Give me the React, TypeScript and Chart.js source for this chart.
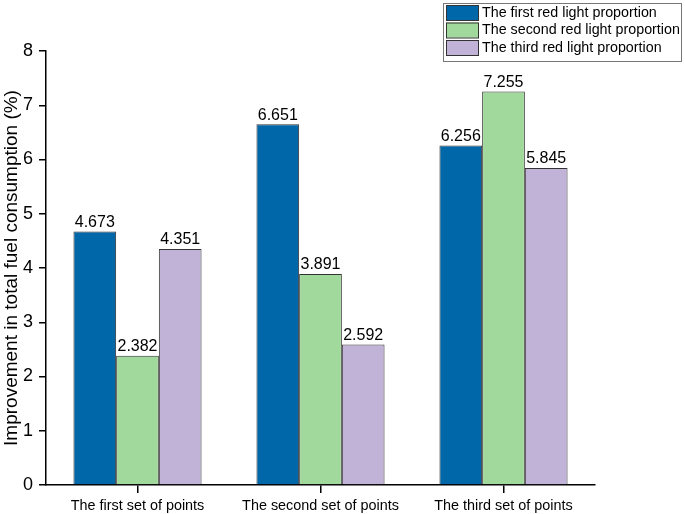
import { useEffect, useRef } from "react";
import { Chart, registerables } from "chart.js";

Chart.register(...registerables);

const categories = ["The first set of points", "The second set of points", "The third set of points"];
const seriesNames = ["The first red light proportion", "The second red light proportion", "The third red light proportion"];
const firstValues = [4.673, 6.651, 6.256];
const secondValues = [2.382, 3.891, 7.255];
const thirdValues = [4.351, 2.592, 5.845];
const yTickValues = [0, 1, 2, 3, 4, 5, 6, 7, 8];
const seriesColors = ["#0067a9", "#a1d89b", "#c1b3d7"];

const FONT = "'Liberation Sans', Arial, Helvetica, sans-serif";

const valueLabelPlugin = {
  id: "valueLabels",
  afterDatasetsDraw(chart: any) {
    const ctx = chart.ctx;
    ctx.save();
    ctx.font = `16px ${FONT}`;
    ctx.fillStyle = "#000";
    ctx.textAlign = "center";
    ctx.textBaseline = "bottom";
    chart.data.datasets.forEach((ds: any, i: number) => {
      const meta = chart.getDatasetMeta(i);
      meta.data.forEach((bar: any, j: number) => {
        ctx.fillText(ds.data[j].toFixed(3), bar.x, bar.y - 1);
      });
    });
    ctx.restore();
  },
};

const boxLegendPlugin = {
  id: "boxLegend",
  afterDraw(chart: any) {
    const ctx = chart.ctx;
    const x0 = 443;
    const y0 = 3;
    const w = 238;
    const h = 58;
    ctx.save();
    ctx.fillStyle = "#fff";
    ctx.fillRect(x0, y0, w, h);
    ctx.strokeStyle = "#777";
    ctx.lineWidth = 1;
    ctx.strokeRect(x0 + 0.5, y0 + 0.5, w, h);
    ctx.font = `14.3px ${FONT}`;
    ctx.textBaseline = "middle";
    ctx.textAlign = "left";
    chart.data.datasets.forEach((ds: any, i: number) => {
      const ry = y0 + 2 + i * 17.5;
      ctx.fillStyle = ds.backgroundColor;
      ctx.fillRect(x0 + 3, ry, 32, 15);
      ctx.strokeStyle = "#333";
      ctx.strokeRect(x0 + 3.5, ry + 0.5, 32, 15);
      ctx.fillStyle = "#000";
      ctx.fillText(ds.label, x0 + 39, ry + 8);
    });
    ctx.restore();
  },
};

export default function App() {
  const canvasRef = useRef<HTMLCanvasElement | null>(null);

  useEffect(() => {
    document.body.style.margin = "0";
    const canvas = canvasRef.current;
    if (!canvas) return;
    const valuesList = [firstValues, secondValues, thirdValues];
    const chart = new Chart(canvas, {
      type: "bar",
      data: {
        labels: categories,
        datasets: valuesList.map((vals, i) => ({
          label: seriesNames[i],
          data: vals,
          backgroundColor: seriesColors[i],
          borderColor: "#333",
          borderWidth: 1,
          categoryPercentage: 0.7,
          barPercentage: 1.0,
        })),
      },
      options: {
        animation: false,
        responsive: true,
        maintainAspectRatio: false,
        layout: { padding: { top: 51, right: 90, left: 0, bottom: 0 } },
        plugins: {
          legend: { display: false },
          tooltip: { enabled: false },
        },
        scales: {
          x: {
            grid: { display: true, drawOnChartArea: false, drawTicks: true, tickLength: 8, offset: false, color: "#000", lineWidth: 1.5 },
            border: { display: true, color: "#000", width: 1.5 },
            ticks: { color: "#000", font: { family: FONT, size: 14.4 }, padding: 4, maxRotation: 0 },
            afterFit(scale: any) {
              scale.height = 29;
            },
          },
          y: {
            min: 0,
            max: 8,
            afterBuildTicks(scale: any) {
              scale.ticks = yTickValues.map((v) => ({ value: v }));
            },
            grid: { display: true, drawOnChartArea: false, drawTicks: true, tickLength: 7, color: "#000", lineWidth: 1.5 },
            border: { display: true, color: "#000", width: 1.5 },
            ticks: { color: "#000", font: { family: FONT, size: 18 }, padding: 6 },
            title: {
              display: true,
              text: "Improvement in total fuel consumption (%)",
              color: "#000",
              font: { family: FONT, size: 19 },
              padding: { top: 0, bottom: 0 },
            },
            afterFit(scale: any) {
              scale.width = 46;
            },
          },
        },
      },
      plugins: [valueLabelPlugin, boxLegendPlugin],
    });
    return () => chart.destroy();
  }, []);

  return (
    <div style={{ position: "relative", width: 685, height: 514 }}>
      <canvas ref={canvasRef} />
    </div>
  );
}
